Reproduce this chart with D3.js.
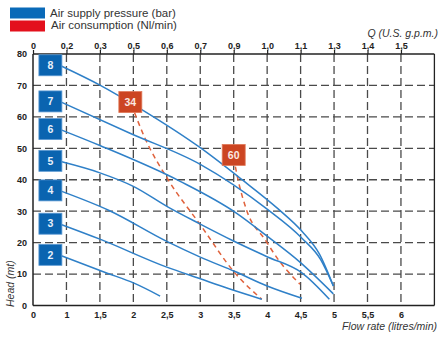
<!DOCTYPE html>
<html>
<head>
<meta charset="utf-8">
<script src="https://cdn.jsdelivr.net/npm/d3@7"></script>
<style>
  html, body { margin: 0; padding: 0; background: #fff; }
  svg { display: block; font-family: "Liberation Sans", Arial, Helvetica, sans-serif; }
</style>
</head>
<body>
<svg id="chart" width="438" height="337"></svg>
<script>
// Flow rate ticks (bottom axis) and the matching U.S. g.p.m. ticks (top axis)
const flowTicks = [0, 1, 1.5, 2, 2.5, 3, 3.5, 4, 4.5, 5, 5.5, 6];
const flowEnd = 6.5;
const qTicks = [0, 0.2, 0.3, 0.5, 0.6, 0.7, 0.9, 1.0, 1.1, 1.3, 1.4, 1.5];
const headTicks = [0, 10, 20, 30, 40, 50, 60, 70, 80];
const headGrid = [10, 20, 30, 40, 50, 60, 70];

// Pump curves per air supply pressure (bar): [flow rate, head (mt)]
const pressures = [8, 7, 6, 5, 4, 3, 2];
const curve8 = [[0.86, 76.1], [1.5, 70.1], [2.12, 62.4], [3.0, 50.2], [3.62, 40.1], [4.16, 30.8], [4.52, 23.6], [4.78, 16.4], [4.99, 6.2]];
const curve7 = [[0.86, 64.6], [1.95, 54.8], [3.0, 44.9], [3.99, 30.8], [4.52, 21.4], [4.8, 14.6], [4.99, 6.2]];
const curve6 = [[0.86, 55.8], [1.5, 50.9], [2.7, 39.5], [3.54, 29.4], [3.99, 22.2], [4.49, 13.8], [4.99, 3.7]];
const curve5 = [[0.86, 45.7], [1.5, 42.2], [2.0, 37.9], [2.52, 31.3], [3.0, 25.9], [3.49, 20.6], [3.99, 15.6], [4.52, 10.4], [4.93, 2.0]];
const curve4 = [[0.86, 36.3], [1.63, 30.3], [2.5, 20.4], [3.0, 15.4], [3.52, 10.8], [4.0, 6.2], [4.52, 2.3]];
const curve3 = [[0.86, 25.7], [1.5, 21.1], [2.5, 12.2], [3.0, 8.5], [3.42, 5.4], [3.92, 2.0]];
const curve2 = [[0.86, 15.8], [1.58, 10.5], [2.01, 7.1], [2.4, 3.0]];
const curves = [curve8, curve7, curve6, curve5, curve4, curve3, curve2];

// Air consumption lines (Nl/min)
const consumptionLabels = [34, 60];
const consumption34 = [[1.97, 64.0], [2.17, 53.4], [2.52, 40.0], [3.0, 25.7], [3.52, 10.3], [3.92, 2.0]];
const consumption60 = [[3.5, 47.0], [3.56, 40.5], [3.69, 30.5], [3.97, 20.9], [4.17, 14.5], [4.49, 6.8]];
const consumptionLabelPos = [[1.955, 64.7], [3.5, 47.9]];
const pressureLabelFlow = 0.52;

const legendItems = ["Air supply pressure (bar)", "Air consumption (Nl/min)"];

const blue = "#2f80c8";
const boxBlue = "#0a64b0";
const red = "#e0623c";
const boxRed = "#cc4522";
const gridColor = "#4a4a4a";

const svg = d3.select("#chart");

const plotLeft = 33, plotRight = 434.4, plotTop = 54, plotBottom = 305.5;
const step = (plotRight - plotLeft) / flowTicks.length;

// Evenly spaced flow positions (piecewise-linear scale)
const x = d3.scaleLinear()
  .domain([...flowTicks, flowEnd])
  .range(d3.range(flowTicks.length + 1).map(i => plotLeft + i * step));
const q = d3.scaleLinear()
  .domain(qTicks)
  .range(qTicks.map((d, i) => plotLeft + i * step));
const y = d3.scaleLinear().domain([0, 80]).range([plotBottom, plotTop]);

const comma = d => String(d).replace(".", ",");

// Legend
const legend = svg.append("g");
legend.append("rect").attr("x", 10).attr("y", 7.5).attr("width", 35).attr("height", 11).attr("fill", "#0a6ab8");
legend.append("rect").attr("x", 10).attr("y", 20.5).attr("width", 35).attr("height", 11).attr("fill", "#e3101c");
legend.append("text").attr("x", 50).attr("y", 17).attr("font-size", 11.5).attr("fill", "#333").text(legendItems[0]);
legend.append("text").attr("x", 51).attr("y", 29).attr("font-size", 11.5).attr("fill", "#333").text(legendItems[1]);

// Grid
const grid = svg.append("g").attr("stroke", gridColor).attr("stroke-width", 1.3).attr("stroke-dasharray", "8,4");
grid.selectAll("line.v").data(flowTicks.slice(1)).join("line").attr("class", "v")
  .attr("x1", d => x(d)).attr("x2", d => x(d)).attr("y1", y(80)).attr("y2", y(0));
grid.selectAll("line.h").data(headGrid).join("line").attr("class", "h")
  .attr("x1", x(0)).attr("x2", x(flowEnd)).attr("y1", d => y(d)).attr("y2", d => y(d));

// Frame
const frame = svg.append("g").attr("stroke", "#222").attr("fill", "none");
frame.append("line").attr("x1", x(0)).attr("x2", x(0)).attr("y1", y(80)).attr("y2", y(0)).attr("stroke-width", 1.5);
frame.append("line").attr("x1", x(0)).attr("x2", x(flowEnd)).attr("y1", y(0)).attr("y2", y(0)).attr("stroke-width", 1.5);
frame.append("line").attr("x1", x(0)).attr("x2", x(flowEnd)).attr("y1", y(80)).attr("y2", y(80)).attr("stroke-width", 1.5);
frame.append("line").attr("x1", x(flowEnd)).attr("x2", x(flowEnd)).attr("y1", y(80)).attr("y2", y(0)).attr("stroke-width", 1.3);

// Axes
const axisText = g => {
  g.select(".domain").remove();
  g.selectAll("text").attr("fill", "#222").attr("font-size", 9).attr("font-weight", "bold");
  g.selectAll("line").attr("stroke", "#222").attr("stroke-width", 1.2);
};
svg.append("g").attr("transform", `translate(0,${y(80)})`)
  .call(d3.axisTop(q).tickValues(qTicks).tickSize(4).tickPadding(1).tickFormat(d => d === 0 ? "0" : comma(d.toFixed(1))))
  .call(axisText);
svg.append("g").attr("transform", `translate(0,${y(0)})`)
  .call(d3.axisBottom(x).tickValues(flowTicks).tickSize(0).tickPadding(6).tickFormat(comma))
  .call(axisText);
svg.append("g").attr("transform", `translate(${x(0)},0)`)
  .call(d3.axisLeft(y).tickValues(headTicks).tickSize(0).tickPadding(6))
  .call(axisText);

// Axis titles
svg.append("text").attr("x", 438).attr("y", 37).attr("text-anchor", "end")
  .attr("font-size", 10.5).attr("font-style", "italic").attr("fill", "#333").text("Q (U.S. g.p.m.)");
svg.append("text").attr("x", 437).attr("y", 330).attr("text-anchor", "end")
  .attr("font-size", 10.5).attr("font-style", "italic").attr("fill", "#333").text("Flow rate (litres/min)");
svg.append("text").attr("transform", "translate(14,307) rotate(-90)").attr("text-anchor", "start")
  .attr("font-size", 10.5).attr("font-style", "italic").attr("fill", "#333").text("Head (mt)");

const line = d3.line().x(d => x(d[0])).y(d => y(d[1])).curve(d3.curveMonotoneX);

// Air consumption dashed lines
svg.append("g").selectAll("path").data([consumption34, consumption60]).join("path")
  .attr("d", line).attr("fill", "none").attr("stroke", red).attr("stroke-width", 1.5).attr("stroke-dasharray", "5,4");

// Pressure curves
svg.append("g").selectAll("path").data(curves).join("path")
  .attr("d", line).attr("fill", "none").attr("stroke", blue).attr("stroke-width", 1.5);

// Pressure labels
const pl = svg.append("g").selectAll("g").data(pressures).join("g")
  .attr("transform", (d, i) => `translate(${x(pressureLabelFlow)},${y(curves[i][0][1]) - 1})`);
pl.append("rect").attr("x", -11.5).attr("y", -10.5).attr("width", 23).attr("height", 21)
  .attr("fill", boxBlue).attr("stroke", "#5d9ad3").attr("stroke-width", 0.8);
pl.append("text").attr("text-anchor", "middle").attr("dy", "0.36em").attr("font-size", 10.5)
  .attr("font-weight", "bold").attr("fill", "#e8f0fa").text(d => d);

// Consumption labels
const cl = svg.append("g").selectAll("g").data(consumptionLabels).join("g")
  .attr("transform", (d, i) => `translate(${x(consumptionLabelPos[i][0])},${y(consumptionLabelPos[i][1])})`);
cl.append("rect").attr("x", -11.5).attr("y", -10.5).attr("width", 23).attr("height", 21)
  .attr("fill", boxRed).attr("stroke", "#e07a5a").attr("stroke-width", 0.8);
cl.append("text").attr("text-anchor", "middle").attr("dy", "0.36em").attr("font-size", 10.5)
  .attr("font-weight", "bold").attr("fill", "#fbe9e3").text(d => d);
</script>
</body>
</html>
